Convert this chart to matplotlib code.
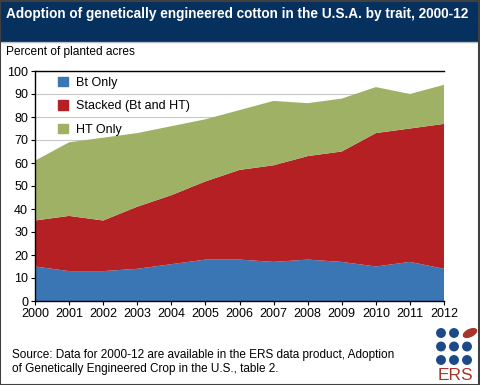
import matplotlib
matplotlib.use("Agg")
import matplotlib.pyplot as plt
from matplotlib.patches import Patch, Rectangle, Ellipse

plt.rcParams.update({
    "font.family": ["Liberation Sans", "DejaVu Sans"],
    "font.size": 9,
})

years = [2000, 2001, 2002, 2003, 2004, 2005, 2006, 2007, 2008, 2009, 2010, 2011, 2012]
bt_only = [15, 13, 13, 14, 16, 18, 18, 17, 18, 17, 15, 17, 14]
stacked = [20, 24, 22, 27, 30, 34, 39, 42, 45, 48, 58, 58, 63]
ht_only = [26, 32, 36, 32, 30, 27, 26, 28, 23, 23, 20, 15, 17]
labels = ["Bt Only", "Stacked (Bt and HT)", "HT Only"]
colors = ["#3a76b3", "#b52025", "#9fb164"]

NAVY = "#06315f"
W, H = 480, 385

fig = plt.figure(figsize=(4.8, 3.85), dpi=100)

# header band, shadow and frame
fig.patches.append(Rectangle((0, 1 - 41 / H), 1, 41 / H, transform=fig.transFigure,
                             color=NAVY, zorder=0))
for i, a in enumerate([0.35, 0.2, 0.1]):
    fig.patches.append(Rectangle((0, 1 - (42 + i) / H), 1, 1 / H, transform=fig.transFigure,
                                 color="0.4", alpha=a, lw=0, zorder=0))
fig.patches.append(Rectangle((0.001, 0.001), 0.996, 0.997, transform=fig.transFigure,
                             fill=False, edgecolor="0.25", lw=1.5, zorder=5))
fig.text(6 / W, 1 - 14 / H, "Adoption of genetically engineered cotton in the U.S.A. by trait, 2000-12",
         color="white", fontsize=9.8, fontweight="bold", va="center", ha="left")
fig.text(6 / W, 1 - 52 / H, "Percent of planted acres", fontsize=8.6, va="center", ha="left")

ax = fig.add_axes([35 / W, 1 - 301 / H, 409 / W, 230 / H])
ax.stackplot(years, bt_only, stacked, ht_only, colors=colors, lw=0, zorder=2)
ax.set_xlim(2000, 2012)
ax.set_ylim(0, 100)
ax.set_xticks(years)
ax.set_yticks(range(0, 101, 10))
ax.grid(axis="y", color="#c8c8c8", lw=0.8, zorder=1)
ax.set_axisbelow(True)
ax.spines["right"].set_visible(False)
for s in ["left", "bottom", "top"]:
    ax.spines[s].set_linewidth(1.0)
ax.tick_params(length=3, width=0.8, labelsize=9, pad=2)

handles = [Patch(color=c) for c in colors]
ax.legend(handles, labels, loc="upper left", frameon=False, fontsize=9,
          handlelength=0.8, handleheight=0.8, handletextpad=0.6, labelspacing=0.9,
          borderpad=0, borderaxespad=0, bbox_to_anchor=(23 / 409, 0.975))

fig.text(12 / W, 1 - 362 / H,
         "Source: Data for 2000-12 are available in the ERS data product, Adoption\n"
         "of Genetically Engineered Crop in the U.S., table 2.",
         fontsize=8.5, va="center", ha="left", linespacing=1.15)

# ERS logo
for r in range(3):
    for c in range(3):
        if r == 0 and c == 2:
            continue
        fig.patches.append(Ellipse(((441 + 13 * c) / W, 1 - (333 + 13.5 * r) / H),
                                   8.5 / W, 8.5 / H, transform=fig.transFigure,
                                   color="#1c4a86", zorder=3))
fig.patches.append(Ellipse((470 / W, 1 - 333 / H), 15 / W, 6.5 / H, angle=35,
                           transform=fig.transFigure, color="#a8352b", zorder=3))
fig.text(455 / W, 1 - 375 / H, "ERS", color="#a8352b", fontsize=12.5, ha="center", va="center")

fig.savefig("out.png", dpi=100)
